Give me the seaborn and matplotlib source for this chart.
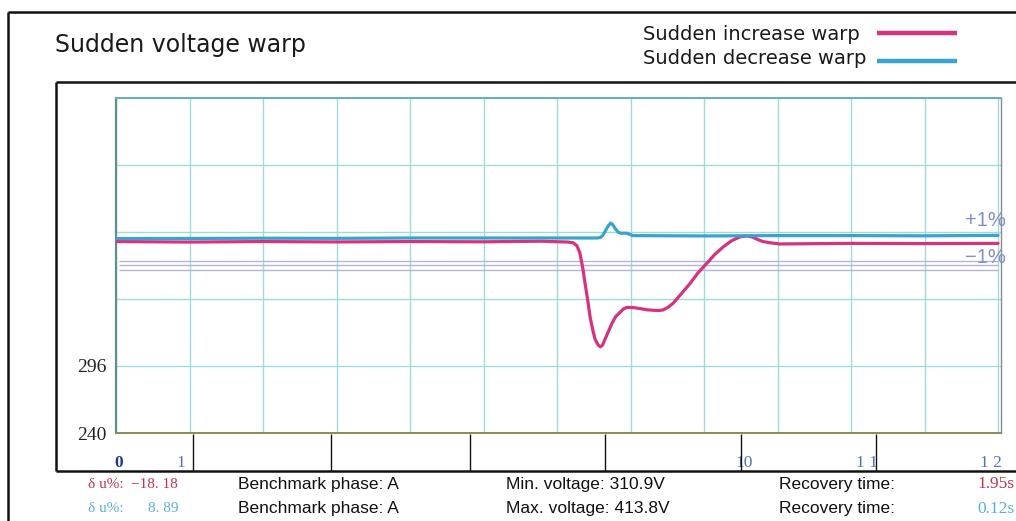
import pandas as pd
import matplotlib
matplotlib.use("Agg")
import matplotlib.pyplot as plt
from matplotlib.lines import Line2D
import seaborn as sns

# ---- data ----
# time axis in grid divisions (0..12), voltage in V
inc_t = [0, 1.0, 2.0, 3.0, 4.0, 5.0, 5.77, 6.15, 6.22, 6.27, 6.31, 6.35, 6.38, 6.42,
         6.45, 6.49, 6.52, 6.56, 6.59, 6.62, 6.65, 6.70, 6.75, 6.80, 6.86, 6.90, 6.95,
         7.04, 7.13, 7.22, 7.31, 7.38, 7.44, 7.51, 7.58, 7.70, 7.81, 7.92, 8.04, 8.15,
         8.26, 8.37, 8.49, 8.59, 8.66, 8.72, 8.80, 8.90, 9.03, 10.0, 11.0, 12.0]
inc_v = [400.0, 399.6, 400.0, 399.7, 400.0, 399.8, 400.3, 399.6, 399.0, 396.5, 390.7,
         378.0, 365.6, 350.0, 337.0, 325.0, 318.0, 313.5, 312.0, 313.5, 318.0, 325.0,
         332.0, 337.5, 341.0, 343.5, 345.0, 344.8, 344.0, 343.0, 342.6, 342.4, 342.8,
         345.0, 348.5, 357.0, 365.0, 374.0, 382.0, 389.5, 395.5, 400.5, 404.0, 404.7,
         403.8, 402.0, 400.0, 399.0, 398.0, 398.5, 398.3, 398.5]

dec_t = [0, 1.0, 2.0, 3.0, 4.0, 5.0, 5.77, 6.55, 6.59, 6.62, 6.65, 6.69, 6.73, 6.76,
         6.79, 6.83, 6.86, 6.95, 7.03, 8.0, 9.0, 10.0, 11.0, 12.0]
dec_v = [402.5, 402.6, 402.8, 402.7, 403.0, 403.0, 403.0, 403.0, 403.5, 405.0, 408.0,
         412.5, 415.5, 414.0, 411.0, 408.0, 407.0, 407.0, 405.0, 404.7, 405.0, 405.0,
         404.8, 405.2]

series_names = ["Sudden increase warp", "Sudden decrease warp"]
series_colors = ["#d5327f", "#38a3d0"]

ref_levels = [383.8, 380.5, 376.3]
y_grid = [240, 296, 352, 408, 464, 520]
y_labels = ["240", "296", "", "", "", ""]
x_grid = list(range(13))
xtick_pos = [0.03, 0.88, 8.54, 10.21, 11.9]
xtick_labels = ["0", "1", "10", "1 1", "1 2"]

row_delta = ["\u221218. 18", "8. 89"]
row_phase = ["Benchmark phase: A", "Benchmark phase: A"]
row_volt = ["Min. voltage: 310.9V", "Max. voltage: 413.8V"]
row_recov = ["1.95s", "0.12s"]
row_colors = ["#c8324a", "#5ab0dc"]

df = pd.concat([
    pd.DataFrame({"t": inc_t, "v": inc_v, "series": series_names[0]}),
    pd.DataFrame({"t": dec_t, "v": dec_v, "series": series_names[1]}),
])

# ---- figure ----
sns.set_style("white")
plt.rcParams["font.family"] = ["DejaVu Sans"]

W, H = 1016, 521
fig = plt.figure(figsize=(W / 100, H / 100), dpi=100)


def fx(px):
    return px / W


def fy(py):
    return 1 - py / H


def fig_line(x0, y0, x1, y1, lw=1.8, color="#111111"):
    fig.add_artist(Line2D([fx(x0), fx(x1)], [fy(y0), fy(y1)], lw=lw, color=color,
                          transform=fig.transFigure, solid_capstyle="butt"))


# frames
fig_line(8, 12, 1016, 12)
fig_line(8, 12, 8, 521)
fig_line(56, 82, 1016, 82)
fig_line(56, 82, 56, 471)
fig_line(56, 471, 1016, 471)

# plot area: x 116..1001, y 98..433
ax = fig.add_axes([fx(116), fy(433), fx(1001) - fx(116), fy(98) - fy(433)])
ax.set_xlim(0, 12.04)
ax.set_ylim(240, 520)

for v in ref_levels:
    ax.hlines(v, 0.04, 12.0, color="#b4b4d6", lw=1.0, zorder=1)

sns.lineplot(data=df, x="t", y="v", hue="series", palette=series_colors,
             estimator=None, sort=False, legend=False, linewidth=2.3, ax=ax, zorder=3)

ax.set_yticks(y_grid, y_labels)
ax.set_xticks(x_grid, minor=True)
ax.set_xticks(xtick_pos, xtick_labels)
ax.grid(True, axis="y", which="major", color="#9fdcd8", lw=1.0, zorder=0)
ax.grid(True, axis="x", which="minor", color="#9fdcd8", lw=1.0, zorder=0)
ax.grid(False, axis="x", which="major")
ax.tick_params(axis="y", length=0, pad=7, labelsize=14, labelcolor="#222222")
ax.tick_params(axis="x", which="both", length=0, pad=16, labelsize=12.5, labelcolor="#5470c0")
for lab in ax.get_yticklabels() + ax.get_xticklabels():
    lab.set_family("Liberation Serif")
ax.get_xticklabels()[0].set_color("#1f3c8c")
ax.get_xticklabels()[0].set_fontweight("bold")
ax.set_xlabel("")
ax.set_ylabel("")

ax.spines["left"].set_color("#5f8f8f")
ax.spines["left"].set_linewidth(1.6)
ax.spines["top"].set_color("#6aaeae")
ax.spines["top"].set_linewidth(1.4)
ax.spines["right"].set_color("#8a8a8a")
ax.spines["right"].set_linewidth(1.0)
ax.spines["bottom"].set_color("#8a8a5a")
ax.spines["bottom"].set_linewidth(1.4)

ax.text(12.1, 418, "+1%", ha="right", va="center", fontsize=14.5,
        family="Liberation Sans", color="#8090c8", clip_on=False)
ax.text(12.1, 386.3, "\u22121%", ha="right", va="center", fontsize=14.5,
        family="Liberation Sans", color="#8090c8", clip_on=False)

# divider marks below the plot
for px in [193, 331, 470, 605, 741, 876]:
    fig_line(px, 434, px, 471, lw=1.0)

# title and legend
fig.text(fx(55), fy(45), "Sudden voltage warp", fontsize=17, va="center", ha="left",
         color="#1a1a1a")
for name, color, ty, ly in zip(series_names, series_colors, [34, 58], [33, 61]):
    fig.text(fx(643), fy(ty), name, fontsize=14, va="center", ha="left", color="#1a1a1a")
    fig_line(877, ly, 957, ly, lw=3.2, color=color)

# bottom info rows
for i, ty in enumerate([484, 509]):
    c = row_colors[i]
    fig.text(fx(88), fy(ty), "\u03b4 u%:", fontsize=11, family="Liberation Serif",
             color=c, va="center", ha="left")
    fig.text(fx(178), fy(ty), row_delta[i], fontsize=11, family="Liberation Serif",
             color=c, va="center", ha="right")
    fig.text(fx(238), fy(ty), row_phase[i], fontsize=12.5, family="Liberation Sans",
             color="#111111", va="center", ha="left")
    fig.text(fx(506), fy(ty), row_volt[i], fontsize=12.5, family="Liberation Sans",
             color="#111111", va="center", ha="left")
    fig.text(fx(779), fy(ty), "Recovery time:", fontsize=12.5, family="Liberation Sans",
             color="#111111", va="center", ha="left")
    fig.text(fx(1014), fy(ty), row_recov[i], fontsize=12.5, family="Liberation Serif",
             color=c, va="center", ha="right")

fig.savefig("out.png", dpi=100)
